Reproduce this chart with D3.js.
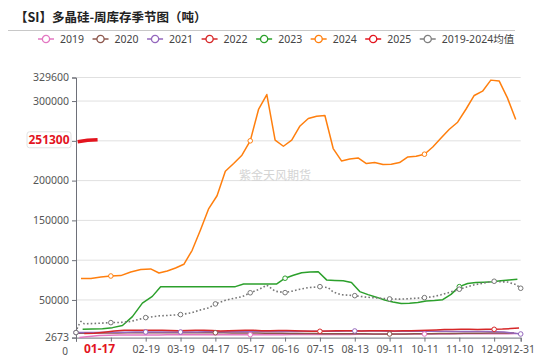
<!DOCTYPE html>
<html><head><meta charset="utf-8">
<script src="https://cdn.jsdelivr.net/npm/d3@7"></script>
<style>
body{margin:0;background:#fff;}
svg{display:block;font-family:"Noto Sans","Noto Sans CJK SC",sans-serif;}
</style>
</head><body>
<svg id="chart" width="550" height="357"></svg>
<script>
// ---------------- DATA ----------------
const title = "【SI】多晶硅-周库存季节图（吨）";
const seriesNames = ["2019","2020","2021","2022","2023","2024","2025","2019-2024均值"];
// weekly values, one per Friday of each year
const v2019 = [2700,4200,5200,5600, 5800,5800,5900,6000, 6000,6100,6100,6200,6200, 6200,6300,6300,6300,
  6300,6300,6300,6300,6400, 6400,6400,6500,6500, 6500,6600,6600,6600, 6700,6700,6800,6800,6900,
  6900,7000,7000,7100, 7100,7200,7200,7300, 7300,7400,7400,7500,7500, 7500,7600,7600,7700];
const v2020 = [8000,8200,8400,8500,8600, 8700,8700,8800,8800, 8800,8900,8900,8800, 8800,8800,8800,8700,
  8600,8500,8400,8300,8200, 8100,8000,7900,7800, 7700,7700,7600,7600,7500, 7500,7400,7400,7300,
  7300,7200,7200,7300, 7400,7500,7600,7700,7800, 7900,8000,8100,8200, 8300,8300,8400,8400];
const v2021 = [9000,9100,9200,9300,9400, 9500,9600,9700,9700, 9700,9700,9700,9800, 9800,9900,9900,10000,10000,
  10100,10100,10200,10200, 10300,10300,10400,10400, 10500,10500,10600,10700,10800, 10900,11000,11000,10900,
  10900,10800,10800,10700, 10700,10600,10600,10500,10500, 10400,10400,10300,10300, 10200,10000,9600,8600,7200];
const v2022 = [7700,8200,9500,11000, 11800,12000,11900,12000, 11800,11500,11200,11600, 12000,11800,11500,11000,11200,
  11600,12000,11800,11400, 11200,11500,11700,11400, 11100,10800,10600,10900,11200, 11300,11200,11100,11200,
  11300,11200,11100,11200,11300, 11500,11800,12300,12800, 13000,13200,13100,13000, 13100,13100,13400,14000,14700];
const v2023 = [13100,13400,13800,15200,17800,29000,46000,54500,66700,
  66700,66700,66700,66700,66700,66700,66700,66700,66700,
  70100,70100,70100,70100,70100,
  77300,81000,84200,85000,85500,75200,74500,74000,72000,60500,56700,53500,50000,47300,45400,45800,46700,
  48700,49300,50300,57000,66700,70600,71800,72300,73000,74000,75000,76000];
const v2024 = [77000,77000,78800,80100,80600,85200,88200,89000,83900,86400,
  90200,94800,112400,138000,164900,181000,211800,221500,231900,250000,
  289400,308200,250800,243200,250800,268700,278000,280900,281800,240300,
  224700,227200,228500,221500,222700,220200,220600,222700,229800,230600,
  233200,242300,253600,264600,273400,289700,307000,312400,326300,325300,
  304000,276800];
const v2025 = [248800,250800,251300];
// 2019-2024 average, read at selected dates
const avgDates = ["01-01","01-03","01-05","01-07","01-12","01-19","01-26","02-02","02-09","02-19","02-23",
  "03-01","03-08","03-19","03-29","04-05","04-12","04-17","04-26","05-03","05-10","05-17","05-24","05-31",
  "06-07","06-16","06-21","06-28","07-05","07-12","07-15","07-22","07-26","08-02","08-13","08-23","09-01",
  "09-11","09-20","09-27","10-11","10-18","10-25","11-01","11-10","11-15","11-22","11-29","12-09","12-13",
  "12-20","12-27","12-31"];
const avgValues = [9000,16000,23000,20000,20300,20800,21500,21800,23000,27800,28500,
  30000,30500,31600,34000,37500,40000,45000,49500,52000,54000,59000,63000,68500,
  61000,59200,61000,63500,65500,66300,66700,65500,60000,56500,55400,53500,52500,
  51300,51000,51500,52900,54000,56500,59500,63500,66000,69000,71000,73500,73000,
  72500,69500,64700];
const yTicks = [2673,50000,100000,150000,200000,250000,300000,329600];
const latestValue = 251300;
const latestDate = "01-17";
const cornerLabel = "0";
const watermark = "紫金天风期货";
const colors = ["#e377c2","#8c564b","#9467bd","#d62728","#2ca02c","#ff7f0e","#e3141e","#7f7f7f"];

// ---------------- BUILD ----------------
const fmt = d3.timeFormat("%m-%d");
const fridays = (y) => d3.timeFriday.range(new Date(y,0,1), new Date(y+1,0,1));
const yearVals = [v2019,v2020,v2021,v2022,v2023,v2024];
const series = yearVals.map((vals,i) => {
  const ds = fridays(2019+i);
  return {name: seriesNames[i], color: colors[i], pts: vals.map((v,j)=>({c: fmt(ds[j]), v}))};
});
const d25 = d3.timeFriday.range(new Date(2025,0,1), new Date(2025,0,18));
series.push({name: seriesNames[6], color: colors[6], pts: v2025.map((v,j)=>({c: fmt(d25[j]), v})), thick:true});

const catSet = new Set();
series.forEach(s => s.pts.forEach(p => catSet.add(p.c)));
const categories = Array.from(catSet).sort();
const avgPts = avgDates.map((c,i)=>({c, v: avgValues[i]})).filter(p => catSet.has(p.c))
  .sort((a,b)=> d3.ascending(a.c,b.c));
series.push({name: seriesNames[7], color: colors[7], pts: avgPts, dotted:true});

const svg = d3.select("#chart");
const L = 76, R = 520.7, T = 77.5, B = 337.6;
const x = d3.scalePoint().domain(categories).range([L, R]).padding(0);
const y = d3.scaleLinear().domain([yTicks[0], yTicks[yTicks.length-1]]).range([B, T]);

const N = categories.length;
const labelCats = categories.filter((c,i) => i % 21 === 0 || i === N-1);
const labelSet = new Set(labelCats);

// title
svg.append("text").attr("x", 15).attr("y", 22).text(title)
  .style("font-family", "'Noto Sans CJK SC',sans-serif").style("font-weight", "bold")
  .style("font-size", "12.5px").attr("fill", "#222");
svg.append("line").attr("x1", 8).attr("x2", 515).attr("y1", 30.5).attr("y2", 30.5)
  .attr("stroke", "#c8c8c8").attr("stroke-width", 1);

// legend
let lx = 38;
const lg = svg.append("g");
series.forEach((s) => {
  const g = lg.append("g").attr("transform", `translate(${lx},39)`);
  g.append("line").attr("x1",0).attr("x2",16).attr("stroke", s.color).attr("stroke-width", 1.5);
  g.append("circle").attr("cx",8).attr("r",3.6).attr("fill","#fff").attr("stroke", s.color).attr("stroke-width",1.3);
  const t = g.append("text").attr("x", 22).attr("dy","0.35em").text(s.name)
    .style("font-size","10.5px").attr("fill","#444");
  lx += 22 + t.node().getComputedTextLength() + 8.5;
});

// grid
svg.append("g").selectAll("line").data(yTicks.slice(1)).join("line")
  .attr("x1", L).attr("x2", R).attr("y1", d=>y(d)).attr("y2", d=>y(d))
  .attr("stroke", "#e0e0e0").attr("stroke-width", 1);

// watermark
svg.append("text").attr("x", 275).attr("y", 180).attr("text-anchor","middle").text(watermark)
  .style("font-family","'Noto Sans CJK SC',sans-serif").style("font-size","12px").attr("fill","#d4d4d4");

// y axis
const yAxis = d3.axisLeft(y).tickValues(yTicks).tickSize(4).tickPadding(3)
  .tickFormat(d => d === 250000 ? "" : d3.format("d")(d));
const ya = svg.append("g").attr("transform", `translate(${L},0)`).call(yAxis);
ya.select(".domain").attr("stroke", "#6e7079");
ya.selectAll(".tick line").attr("stroke", "#6e7079");
ya.selectAll(".tick text").style("font-size","10.5px").attr("fill","#555").style("font-family","'Noto Sans',sans-serif");

// x axis
const latestX = x(latestDate);
const xAxis = d3.axisBottom(x).tickValues(labelCats).tickSize(4).tickPadding(4)
  .tickFormat(c => Math.abs(x(c) - latestX) < 28 ? "" : c);
const xa = svg.append("g").attr("transform", `translate(0,${B})`).call(xAxis);
xa.select(".domain").attr("stroke", "#6e7079");
xa.selectAll(".tick line").attr("stroke", "#6e7079");
xa.selectAll(".tick text").style("font-size","10.5px").attr("fill","#555").style("font-family","'Noto Sans',sans-serif");
svg.append("text").attr("x", L - 11).attr("y", B + 17.5).attr("text-anchor","middle").text(cornerLabel)
  .style("font-size","10px").attr("fill","#555");
svg.append("text").attr("x", latestX + 2).attr("y", B + 15.5).attr("text-anchor","middle").text(latestDate)
  .style("font-size","12px").style("font-weight","bold").attr("fill","#e3141e");

// lines
const line = d3.line().x(p => x(p.c)).y(p => y(p.v));
const lines = svg.append("g");
series.forEach(s => {
  const path = lines.append("path").datum(s.pts).attr("d", line).attr("fill","none")
    .attr("stroke", s.color).attr("stroke-width", s.thick ? 3.6 : 1.5).attr("stroke-linejoin","round");
  if (s.dotted) path.attr("stroke-dasharray","1.6,2.2").attr("stroke-width",1.6).attr("stroke","#777");
});
// markers at labelled categories
series.forEach(s => {
  lines.append("g").selectAll("circle").data(s.pts.filter(p => labelSet.has(p.c))).join("circle")
    .attr("cx", p => x(p.c)).attr("cy", p => y(p.v)).attr("r", 2.3)
    .attr("fill","#fff").attr("stroke", s.dotted ? "#777" : s.color).attr("stroke-width",1);
});

// latest value label on y axis
const ly = y(latestValue);
const lab = svg.append("g");
lab.append("rect").attr("x", 27).attr("y", ly - 8).attr("width", 44).attr("height", 16).attr("rx", 2.5)
  .attr("fill","#fff").attr("stroke","#e2e2e2");
lab.append("text").attr("x", 49).attr("y", ly).attr("dy","0.36em").attr("text-anchor","middle")
  .text(d3.format("d")(latestValue)).style("font-size","12px").style("font-weight","bold").attr("fill","#e3141e");
</script>
</body></html>
